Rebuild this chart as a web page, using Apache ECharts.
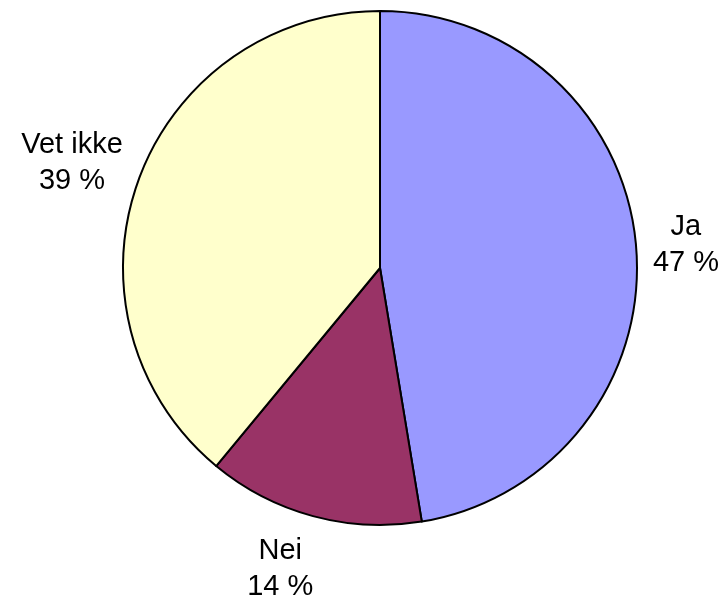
<!DOCTYPE html>
<html>
<head>
<meta charset="utf-8">
<script src="https://cdn.jsdelivr.net/npm/echarts@6/dist/echarts.min.js"></script>
<style>html,body{margin:0;padding:0;background:#fff}#c{width:724px;height:602px}</style>
</head>
<body>
<div id="c"></div>
<script>
const categories = ['Ja', 'Nei', 'Vet ikke'];
const values = [47.4, 13.6, 39.0];
const colors = ['#9999FF', '#993366', '#FFFFCC'];
const labelOffsets = [[-14, 3], [-16, -9], [-6, 4]];

const chart = echarts.init(document.getElementById('c'));
const center = [380, 268];
chart.setOption({
  animation: false,
  series: [
    {
      type: 'pie',
      center: center,
      radius: [0, 257],
      startAngle: 90,
      clockwise: true,
      silent: true,
      label: { show: false },
      labelLine: { show: false },
      itemStyle: { borderColor: '#000', borderWidth: 2 },
      data: categories.map((c, i) => ({ name: c, value: values[i], itemStyle: { color: colors[i] } }))
    },
    {
      type: 'pie',
      center: center,
      radius: [298, 338],
      startAngle: 90,
      clockwise: true,
      silent: true,
      itemStyle: { color: 'rgba(0,0,0,0)' },
      labelLine: { show: false },
      label: {
        show: true,
        position: 'inside',
        color: '#000',
        fontFamily: 'Liberation Sans, Arial, sans-serif',
        fontSize: 29,
        lineHeight: 36,
        align: 'center',
        formatter: p => p.name + '\n' + Math.round(p.value) + ' %'
      },
      data: categories.map((c, i) => ({ name: c, value: values[i], label: { offset: labelOffsets[i] } }))
    }
  ]
});
</script>
</body>
</html>
